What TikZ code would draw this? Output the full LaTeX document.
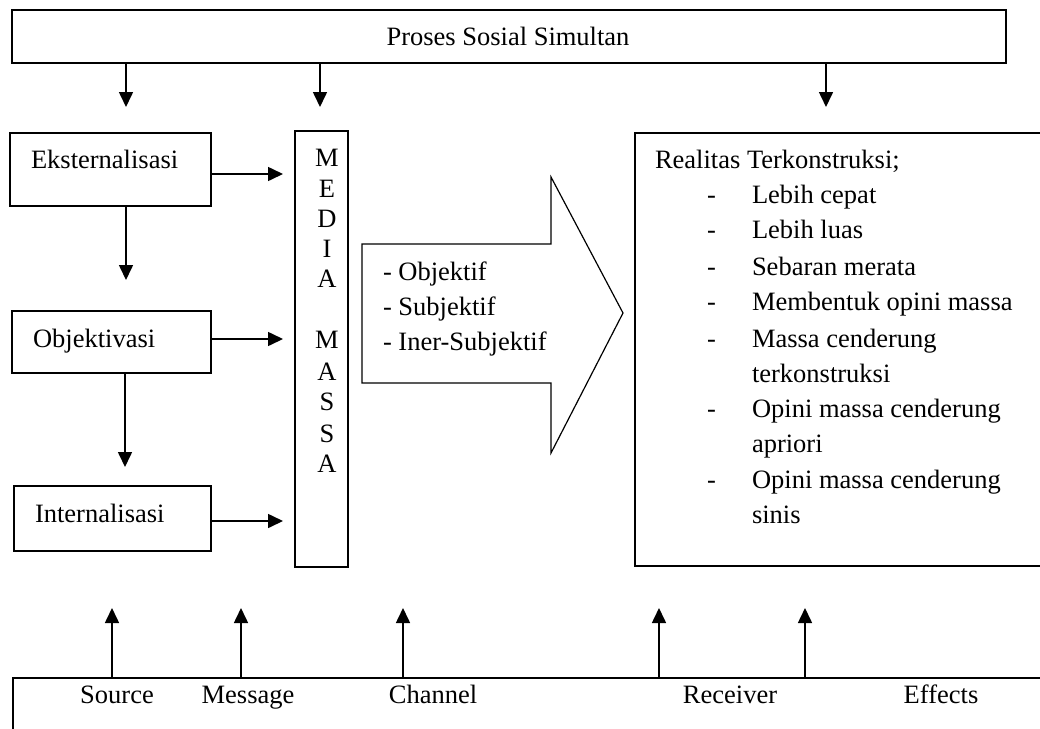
\documentclass[tikz,border=0pt]{standalone}
\usepackage{fontspec}
\setmainfont{Liberation Serif}
\usetikzlibrary{arrows.meta}
\begin{document}
\begin{tikzpicture}[x=1pt,y=-1pt,
  every node/.style={inner sep=0pt,outer sep=0pt,font=\fontsize{26.5}{35}\selectfont},
  box/.style={draw,line width=1.8pt,rectangle},
  arr/.style={line width=1.6pt,-{Triangle[length=15pt,width=14pt]}},
  txt/.style={anchor=base west},
  ctr/.style={anchor=base}]
\useasboundingbox (0,0) rectangle (1040,728);
\clip (0,0) rectangle (1040,728);
\fill[white] (0,0) rectangle (1040,728);

% boxes
\node[box,minimum width=994pt,minimum height=53pt] (top) at (509,36.5) {};
\node[box,minimum width=201pt,minimum height=73pt] (ekst) at (110.5,169.5) {};
\node[box,minimum width=199pt,minimum height=62pt] (obj) at (111.5,342) {};
\node[box,minimum width=197pt,minimum height=65pt] (int) at (112.5,518.5) {};
\node[box,minimum width=53pt,minimum height=436pt] (media) at (321.5,349) {};
\node[box,minimum width=425pt,minimum height=433pt] (real) at (847.5,349.5) {};
\node[box,minimum width=1047pt,minimum height=92pt] (bot) at (536.5,724) {};

% texts
\node[ctr] (ttop) at (508,45) {Proses Sosial Simultan};
\node[txt] (tekst) at (31,168) {Eksternalisasi};
\node[txt] (tobj) at (33,347) {Objektivasi};
\node[txt] (tint) at (35,522) {Internalisasi};

\foreach \l/\y [count=\i] in {M/166,E/197,D/227,I/257,A/287,M/348,A/380,S/410,S/442,A/472}
  \node[ctr] (ml\i) at (327,\y) {\l};

% big arrow
\draw[line width=1.2pt,line join=miter] (362,244) -- (551,244) -- (551,177) -- (623,313)
  -- (551,453) -- (551,383) -- (362,383) -- cycle;
\node[txt] (a1) at (383,280) {- Objektif};
\node[txt] (a2) at (383,315) {- Subjektif};
\node[txt] (a3) at (383,350) {- Iner-Subjektif};

% right box texts
\node[txt] (rhead) at (655,168) {Realitas Terkonstruksi;};
\foreach \y in {203,238,275,310,347,417,488}
  \node[txt] at (707,\y) {-};
\node[txt] (r1) at (752,203) {Lebih cepat};
\node[txt] (r2) at (752,238) {Lebih luas};
\node[txt] (r3) at (752,275) {Sebaran merata};
\node[txt] (r4) at (752,310) {Membentuk opini massa};
\node[txt] (r5) at (752,347) {Massa cenderung};
\node[txt] (r5b) at (752,382) {terkonstruksi};
\node[txt] (r6) at (752,417) {Opini massa cenderung};
\node[txt] (r6b) at (752,452) {apriori};
\node[txt] (r7) at (752,488) {Opini massa cenderung};
\node[txt] (r7b) at (752,523) {sinis};

% bottom labels
\node[ctr] (bs) at (117,703) {Source};
\node[ctr] (bm) at (248,703) {Message};
\node[ctr] (bc) at (433,703) {Channel};
\node[ctr] (br) at (730,703) {Receiver};
\node[ctr] (be) at (941,703) {Effects};

% coordinates for free ends
\coordinate (d1) at (126,107);
\coordinate (d2) at (320,107);
\coordinate (d3) at (826,107);
\coordinate (m1) at (283,174);
\coordinate (m2) at (283,339);
\coordinate (m3) at (283,521);
\coordinate (v1) at (126,280);
\coordinate (v2) at (125,467);
\coordinate (u1) at (112,608);
\coordinate (u2) at (241,608);
\coordinate (u3) at (403,608);
\coordinate (u4) at (659,608);
\coordinate (u5) at (805,608);

% connectors
\foreach \c in {d1,d2,d3} \draw[arr] (\c |- top.south) -- (\c);
\foreach \c/\s in {m1/ekst,m2/obj,m3/int} \draw[arr] (\c -| \s.east) -- (\c);
\draw[arr] (v1 |- ekst.south) -- (v1);
\draw[arr] (v2 |- obj.south) -- (v2);
\foreach \c in {u1,u2,u3,u4,u5} \draw[arr] (\c |- bot.north) -- (\c);
\end{tikzpicture}
\end{document}
